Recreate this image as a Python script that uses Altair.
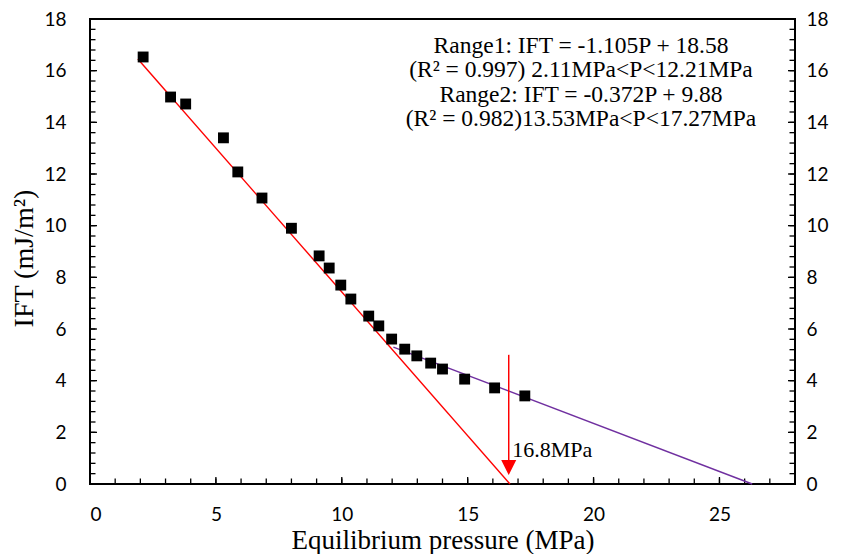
import altair as alt
import pandas as pd

# ---- data ----
pressure = [2.11, 3.2, 3.8, 5.3, 5.87, 6.83, 8.0, 9.1, 9.5, 9.96, 10.36, 11.07,
            11.47, 11.98, 12.5, 12.98, 13.53, 14.0, 14.88, 16.07, 17.27]
ift = [16.53, 14.98, 14.71, 13.4, 12.08, 11.07, 9.9, 8.83, 8.36, 7.7, 7.16, 6.5,
       6.12, 5.61, 5.22, 4.96, 4.68, 4.45, 4.06, 3.72, 3.41]

range1_x = [1.9, 16.68]
range1_y = [16.45, 0.0]
range2_x = [12.05, 26.3]
range2_y = [5.3, 0.0]

arrow_x = [16.63, 16.63]
arrow_y = [5.0, 0.93]
arrow_head = [0.64]

x_major = [0, 5, 10, 15, 20, 25]
x_minor = list(range(0, 29))
y_major = list(range(0, 19, 2))
y_minor = [round(0.4 * i, 1) for i in range(46)]

annotation = [
    "Range1: IFT = -1.105P + 18.58",
    "(R\u00b2 = 0.997) 2.11MPa<P<12.21MPa",
    "Range2: IFT  = -0.372P + 9.88",
    "(R\u00b2 = 0.982)13.53MPa<P<17.27MPa",
]

W, H = 705, 465
SERIF = "Liberation Serif, Times New Roman, serif"
SANS = "Lato"

XS = alt.Scale(domain=[0, 28], nice=False, zero=False)
YS = alt.Scale(domain=[0, 18], nice=False, zero=False)

x_axis = alt.Axis(values=x_major, ticks=False, tickSize=0, domain=False, grid=False,
                  labelFont=SANS, labelFontSize=19, labelColor="black", labelPadding=21,
                  title="Equilibrium pressure (MPa)", titleFont=SERIF, titleFontSize=27,
                  titleFontWeight="normal", titleColor="black", titleY=64,
                  titleBaseline="alphabetic")
y_axis = alt.Axis(values=y_major, ticks=False, tickSize=0, domain=False, grid=False,
                  labelFont=SANS, labelFontSize=19, labelColor="black", labelPadding=24,
                  title="IFT (mJ/m\u00b2)", titleFont=SERIF, titleFontSize=28,
                  titleFontWeight="normal", titleColor="black", titleX=-66, titleY=239,
                  titleBaseline="middle", titleAngle=-90)


def xenc(f):
    return alt.X(f, type="quantitative", scale=XS, axis=x_axis)


def yenc(f):
    return alt.Y(f, type="quantitative", scale=YS, axis=y_axis)


pts = pd.DataFrame({"p": pressure, "ift": ift})
l1 = pd.DataFrame({"p": range1_x, "ift": range1_y})
l2 = pd.DataFrame({"p": range2_x, "ift": range2_y})
arr = pd.DataFrame({"p": arrow_x, "ift": arrow_y})
head = pd.DataFrame({"p": [arrow_x[0]], "ift": arrow_head})

points = alt.Chart(pts).mark_point(shape="square", filled=True, color="black",
                                   opacity=1, size=118).encode(x=xenc("p"), y=yenc("ift"))
line1 = alt.Chart(l1).mark_line(color="#FF0000", strokeWidth=1.4).encode(x=xenc("p"), y=yenc("ift"))
line2 = alt.Chart(l2).mark_line(color="#7030A0", strokeWidth=1.4).encode(x=xenc("p"), y=yenc("ift"))
arrow = alt.Chart(arr).mark_line(color="#FF0000", strokeWidth=1.5).encode(x=xenc("p"), y=yenc("ift"))
arrowhead = alt.Chart(head).mark_point(shape="M-1,-1L1,-1L0,1Z", filled=True, color="#FF0000",
                                       opacity=1, size=225).encode(x=xenc("p"), y=yenc("ift"))

label168 = alt.Chart(pd.DataFrame({"t": ["16.8MPa"]})).mark_text(
    font=SERIF, fontSize=22, align="left", baseline="alphabetic", color="black"
).encode(x=alt.datum(16.77, scale=XS), y=alt.datum(1.05, scale=YS), text="t:N")

ann = alt.Chart(pd.DataFrame({"a": [0]})).mark_text(
    font=SERIF, fontSize=23.5, align="center", baseline="top", lineHeight=24.5,
    color="black", text=annotation
).encode(x=alt.datum(19.5, scale=XS), y=alt.datum(17.42, scale=YS))

# inward tick marks
ym = pd.DataFrame({"v": y_major})
yn = pd.DataFrame({"v": y_minor})
xm = pd.DataFrame({"v": x_major})
xn = pd.DataFrame({"v": x_minor})
tk = dict(color="black", strokeWidth=1.3)
ticks = [
    alt.Chart(ym).mark_rule(**tk).encode(y=yenc("v"), x=alt.value(0), x2=alt.value(7)),
    alt.Chart(yn).mark_rule(**tk).encode(y=yenc("v"), x=alt.value(0), x2=alt.value(5.5)),
    alt.Chart(ym).mark_rule(**tk).encode(y=yenc("v"), x=alt.value(W - 7), x2=alt.value(W)),
    alt.Chart(yn).mark_rule(**tk).encode(y=yenc("v"), x=alt.value(W - 5.5), x2=alt.value(W)),
    alt.Chart(xm).mark_rule(**tk).encode(x=xenc("v"), y=alt.value(H - 7), y2=alt.value(H)),
    alt.Chart(xn).mark_rule(**tk).encode(x=xenc("v"), y=alt.value(H - 5.5), y2=alt.value(H)),
]

main = alt.layer(*ticks, line1, line2, arrow, arrowhead, points, label168, ann)

right = alt.Chart(pts).mark_point(opacity=0).encode(
    x=xenc("p"),
    y=alt.Y("ift:Q", scale=YS,
            axis=alt.Axis(orient="right", values=y_major, ticks=False, tickSize=0,
                          domain=False, grid=False, labelFont=SANS, labelFontSize=19,
                          labelColor="black", labelPadding=11, title=None)),
)

chart = alt.layer(main, right).resolve_scale(y="independent").properties(
    width=W, height=H,
    autosize=alt.AutoSizeParams(type="none"),
    padding={"left": 90, "top": 19, "right": 48, "bottom": 70},
    background="white",
).configure_view(stroke="black", strokeWidth=2)

chart.save("out.html", embed_options={"renderer": "svg", "actions": False})
